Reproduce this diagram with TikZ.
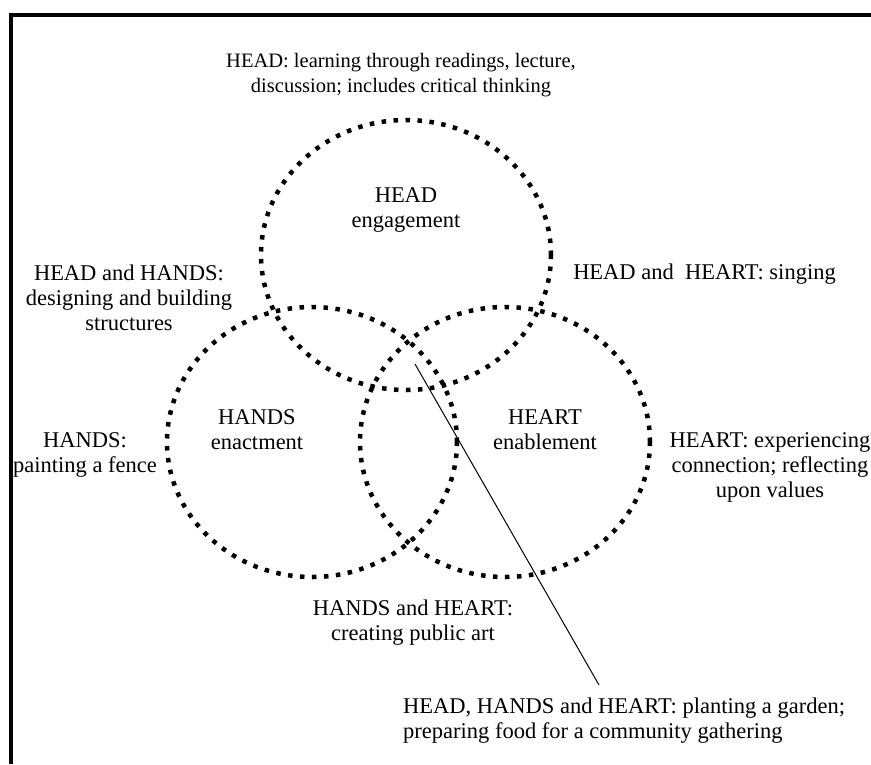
\documentclass[tikz,border=0pt]{standalone}
\usepackage{fontspec}
\setmainfont{Liberation Serif}
\usetikzlibrary{shapes.geometric}
\begin{document}
\begin{tikzpicture}[x=1pt,y=-1pt,
  ring/.style={ellipse, draw, line width=4.5pt, dash pattern=on 4.5pt off 7.5pt,
    minimum width=290pt, minimum height=270pt, inner sep=0pt},
  lbl/.style={font=\fontsize{22.5}{25}\selectfont, align=center, inner sep=0pt},
  toplbl/.style={font=\fontsize{20.5}{25}\selectfont, align=center, inner sep=0pt},
  frame/.style={line width=4pt},
  leader/.style={line width=1pt}
  ]
\useasboundingbox (0,0) rectangle (871,764);
\coordinate (fb) at (11,764);
\coordinate (fc) at (11,15);
\coordinate (fr) at (871,15);
\draw[frame] (fb) -- (fc) -- (fr);

\node[ring] (head) at (406,255) {};
\node[ring] (hands) at (312,442) {};
\node[ring] (heart) at (505,442) {};

\node[toplbl] (headlbl) at (401,75) {HEAD: learning through readings, lecture,\\discussion; includes critical thinking};
\node[lbl] (headin) at (406,210) {HEAD\\engagement};
\node[lbl] (hhlbl) at (129,298) {HEAD and HANDS:\\designing and building\\structures};
\node[lbl] (htlbl) at (704.5,274) {HEAD and\ \ HEART: singing};
\node[lbl] (handsin) at (257,430) {HANDS\\enactment};
\node[lbl] (heartin) at (545,430) {HEART\\enablement};
\node[lbl] (handslbl) at (85,455) {HANDS:\\painting a fence};
\node[lbl] (heartlbl) at (770,467) {HEART: experiencing\\connection; reflecting\\upon values};
\node[lbl] (hhtlbl) at (413,623) {HANDS and HEART:\\creating public art};
\node[lbl, align=left, anchor=west] (alllbl) at (403,721) {HEAD, HANDS and HEART: planting a garden;\\preparing food for a community gathering};

\coordinate (p) at (415,364);
\coordinate (q) at (599,685);
\draw[leader] (p) -- (q);
\end{tikzpicture}
\end{document}
